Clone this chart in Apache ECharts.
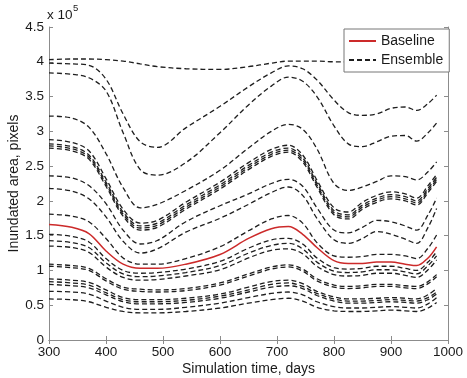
<!DOCTYPE html>
<html>
<head>
<meta charset="utf-8">
<script src="https://cdn.jsdelivr.net/npm/echarts@6/dist/echarts.min.js"></script>
<style>html,body{margin:0;padding:0;background:#fff}#c{width:467px;height:378px}</style>
</head>
<body>
<div id="c"></div>
<script>
// Simulation time (days) sample points
const days = [300, 340, 370, 400, 430, 460, 490, 540, 600, 650, 690, 720, 745, 770, 800, 825, 850, 875, 900, 925, 945, 965, 980];
// Values in units of 10^5 pixels
const baseline = [1.66, 1.62, 1.53, 1.28, 1.09, 1.03, 1.03, 1.09, 1.23, 1.46, 1.60, 1.63, 1.52, 1.33, 1.14, 1.10, 1.10, 1.12, 1.12, 1.09, 1.07, 1.18, 1.34];
const ensA = [4.03, 4.04, 4.04, 4.03, 4.01, 3.97, 3.93, 3.90, 3.89, 3.93, 3.98, 4.01, 4.01, 4.01, 4.00, 4.00, 4.00, 4.00, 4.00, 4.00, 4.00, 4.00, 4.00];
const ensB = [3.98, 3.97, 3.95, 3.75, 3.25, 2.85, 2.77, 3.05, 3.36, 3.64, 3.84, 3.94, 3.90, 3.74, 3.45, 3.27, 3.23, 3.25, 3.33, 3.35, 3.30, 3.40, 3.52];
const ensC = [3.84, 3.82, 3.77, 3.58, 2.98, 2.45, 2.37, 2.55, 2.98, 3.38, 3.65, 3.78, 3.72, 3.50, 3.08, 2.82, 2.78, 2.85, 2.93, 2.94, 2.86, 2.98, 3.12];
const ensD = [3.22, 3.19, 3.06, 2.68, 2.19, 1.90, 1.95, 2.15, 2.44, 2.76, 3.00, 3.10, 3.03, 2.75, 2.25, 2.15, 2.20, 2.28, 2.36, 2.35, 2.30, 2.42, 2.56];
const ensE1 = [2.88, 2.84, 2.72, 2.32, 1.88, 1.68, 1.72, 1.98, 2.27, 2.55, 2.74, 2.80, 2.66, 2.30, 1.90, 1.84, 1.98, 2.08, 2.13, 2.10, 2.04, 2.22, 2.38];
const ensE2 = [2.82, 2.78, 2.66, 2.27, 1.84, 1.64, 1.68, 1.94, 2.23, 2.51, 2.70, 2.76, 2.62, 2.26, 1.86, 1.80, 1.94, 2.04, 2.09, 2.06, 2.00, 2.18, 2.34];
const ensE3 = [2.79, 2.75, 2.63, 2.24, 1.81, 1.61, 1.65, 1.91, 2.20, 2.48, 2.67, 2.73, 2.59, 2.23, 1.83, 1.77, 1.91, 2.01, 2.06, 2.03, 1.97, 2.15, 2.31];
const ensE4 = [2.76, 2.72, 2.60, 2.21, 1.78, 1.58, 1.62, 1.88, 2.17, 2.45, 2.64, 2.70, 2.56, 2.20, 1.80, 1.74, 1.88, 1.98, 2.03, 2.00, 1.94, 2.12, 2.28];
const ensF = [2.36, 2.33, 2.22, 1.96, 1.58, 1.38, 1.43, 1.70, 1.93, 2.10, 2.25, 2.31, 2.21, 1.90, 1.58, 1.54, 1.62, 1.72, 1.70, 1.64, 1.58, 1.80, 2.04];
const ensG = [2.18, 2.14, 2.03, 1.77, 1.42, 1.25, 1.31, 1.55, 1.75, 1.95, 2.12, 2.20, 2.08, 1.75, 1.44, 1.39, 1.46, 1.56, 1.52, 1.45, 1.39, 1.62, 1.89];
const ensH = [1.81, 1.78, 1.70, 1.46, 1.18, 1.09, 1.09, 1.17, 1.34, 1.57, 1.74, 1.79, 1.68, 1.40, 1.21, 1.19, 1.20, 1.23, 1.23, 1.21, 1.17, 1.32, 1.51];
const ensL1 = [1.52, 1.49, 1.41, 1.17, 1.00, 0.96, 0.97, 1.02, 1.13, 1.32, 1.44, 1.46, 1.38, 1.18, 1.04, 1.02, 1.03, 1.06, 1.06, 1.03, 1.00, 1.12, 1.27];
const ensL2 = [1.43, 1.40, 1.33, 1.11, 0.95, 0.91, 0.92, 0.97, 1.07, 1.25, 1.36, 1.39, 1.31, 1.12, 0.99, 0.97, 0.98, 1.01, 1.01, 0.98, 0.95, 1.07, 1.21];
const ensL3 = [1.35, 1.33, 1.26, 1.05, 0.90, 0.86, 0.87, 0.92, 1.01, 1.18, 1.29, 1.31, 1.24, 1.06, 0.94, 0.92, 0.93, 0.96, 0.96, 0.93, 0.90, 1.01, 1.15];
const ensM1 = [1.09, 1.07, 1.03, 0.88, 0.76, 0.73, 0.72, 0.74, 0.82, 0.95, 1.05, 1.08, 1.02, 0.88, 0.79, 0.77, 0.78, 0.80, 0.80, 0.78, 0.77, 0.84, 0.94];
const ensM2 = [1.06, 1.04, 1.00, 0.85, 0.73, 0.70, 0.69, 0.71, 0.79, 0.92, 1.02, 1.05, 0.99, 0.85, 0.76, 0.74, 0.75, 0.77, 0.77, 0.75, 0.74, 0.81, 0.91];
const ensN1 = [0.88, 0.86, 0.83, 0.72, 0.61, 0.58, 0.58, 0.60, 0.66, 0.76, 0.84, 0.86, 0.81, 0.70, 0.62, 0.59, 0.59, 0.60, 0.61, 0.60, 0.59, 0.65, 0.74];
const ensN2 = [0.84, 0.82, 0.79, 0.68, 0.58, 0.55, 0.55, 0.57, 0.63, 0.72, 0.80, 0.82, 0.77, 0.67, 0.59, 0.56, 0.56, 0.57, 0.58, 0.57, 0.56, 0.61, 0.69];
const ensN3 = [0.80, 0.78, 0.75, 0.65, 0.55, 0.52, 0.52, 0.54, 0.60, 0.69, 0.76, 0.78, 0.74, 0.64, 0.56, 0.53, 0.53, 0.54, 0.55, 0.54, 0.53, 0.58, 0.66];
const ensP = [0.70, 0.69, 0.66, 0.56, 0.47, 0.44, 0.44, 0.47, 0.53, 0.61, 0.67, 0.69, 0.65, 0.55, 0.48, 0.46, 0.46, 0.47, 0.48, 0.47, 0.46, 0.52, 0.61];
const ensQ = [0.59, 0.58, 0.55, 0.47, 0.41, 0.39, 0.39, 0.41, 0.46, 0.53, 0.58, 0.60, 0.56, 0.47, 0.42, 0.41, 0.41, 0.42, 0.43, 0.42, 0.41, 0.46, 0.54];
const ensemble = [ensA, ensB, ensC, ensD, ensE1, ensE2, ensE3, ensE4, ensF, ensG, ensH, ensL1, ensL2, ensL3, ensM1, ensM2, ensN1, ensN2, ensN3, ensP, ensQ];

const FONT = '"Liberation Sans", Arial, sans-serif';
const AX = '#8c8c8c';
const TXT = '#1a1a1a';

function pairs(vals) { return days.map((d, i) => [d, vals[i]]); }

const series = ensemble.map(v => ({
  name: 'Ensemble', type: 'line', data: pairs(v), smooth: 0.35, symbol: 'none',
  lineStyle: { color: '#1e1e1e', width: 1.3, type: [5, 3] }, itemStyle: { color: '#1e1e1e', opacity: 0 },
  xAxisIndex: 0, yAxisIndex: 0, z: 2
}));
series.push({
  name: 'Baseline', type: 'line', data: pairs(baseline), smooth: 0.35, symbol: 'none',
  lineStyle: { color: '#cc2a2a', width: 1.5, type: 'solid' }, itemStyle: { color: '#cc2a2a', opacity: 0 },
  xAxisIndex: 0, yAxisIndex: 0, z: 3
});

const axLine = { show: true, lineStyle: { color: AX, width: 1 } };
const axTick = { show: true, inside: true, length: 4, lineStyle: { color: AX } };

const chart = echarts.init(document.getElementById('c'), null, { renderer: 'canvas' });
chart.setOption({
  animation: false,
  backgroundColor: '#fff',
  grid: { left: 49, right: 19, top: 27, bottom: 38, containLabel: false, outerBoundsMode: 'none' },
  xAxis: [
    { type: 'value', min: 300, max: 1000, interval: 100, position: 'bottom',
      axisLine: axLine, axisTick: axTick, splitLine: { show: false },
      axisLabel: { color: TXT, fontFamily: FONT, fontSize: 13.5, margin: 5, formatter: v => String(v) },
      name: 'Simulation time, days', nameLocation: 'middle', nameGap: 22, nameMoveOverlap: false,
      nameTextStyle: { color: TXT, fontFamily: FONT, fontSize: 14 } },
    { type: 'value', min: 300, max: 1000, interval: 100, position: 'top',
      axisLine: axLine, axisTick: axTick, splitLine: { show: false }, axisLabel: { show: false } }
  ],
  yAxis: [
    { type: 'value', min: 0, max: 4.5, interval: 0.5, position: 'left',
      axisLine: axLine, axisTick: axTick, splitLine: { show: false },
      axisLabel: { color: TXT, fontFamily: FONT, fontSize: 13.5, margin: 5, formatter: v => String(v) },
      name: 'Inundated area, pixels', nameLocation: 'middle', nameGap: 28, nameMoveOverlap: false,
      nameTextStyle: { color: TXT, fontFamily: FONT, fontSize: 14 } },
    { type: 'value', min: 0, max: 4.5, interval: 0.5, position: 'right',
      axisLine: axLine, axisTick: axTick, splitLine: { show: false }, axisLabel: { show: false } }
  ],
  legend: {
    data: ['Baseline', 'Ensemble'], orient: 'vertical', left: 344, top: 29,
    backgroundColor: '#fff', borderColor: '#777', borderWidth: 1,
    padding: [5, 6, 5, 4], itemGap: 5, itemWidth: 27, itemHeight: 13,
    itemStyle: { opacity: 0 },
    textStyle: { color: TXT, fontFamily: FONT, fontSize: 14, lineHeight: 13 },
    selectedMode: false
  },
  graphic: [
    { type: 'text', left: 47, top: 8, style: { text: 'x 10', font: '13.5px ' + FONT, fill: TXT } },
    { type: 'text', left: 73, top: 3, style: { text: '5', font: '9.5px ' + FONT, fill: TXT } }
  ],
  series: series
});
</script>
</body>
</html>
